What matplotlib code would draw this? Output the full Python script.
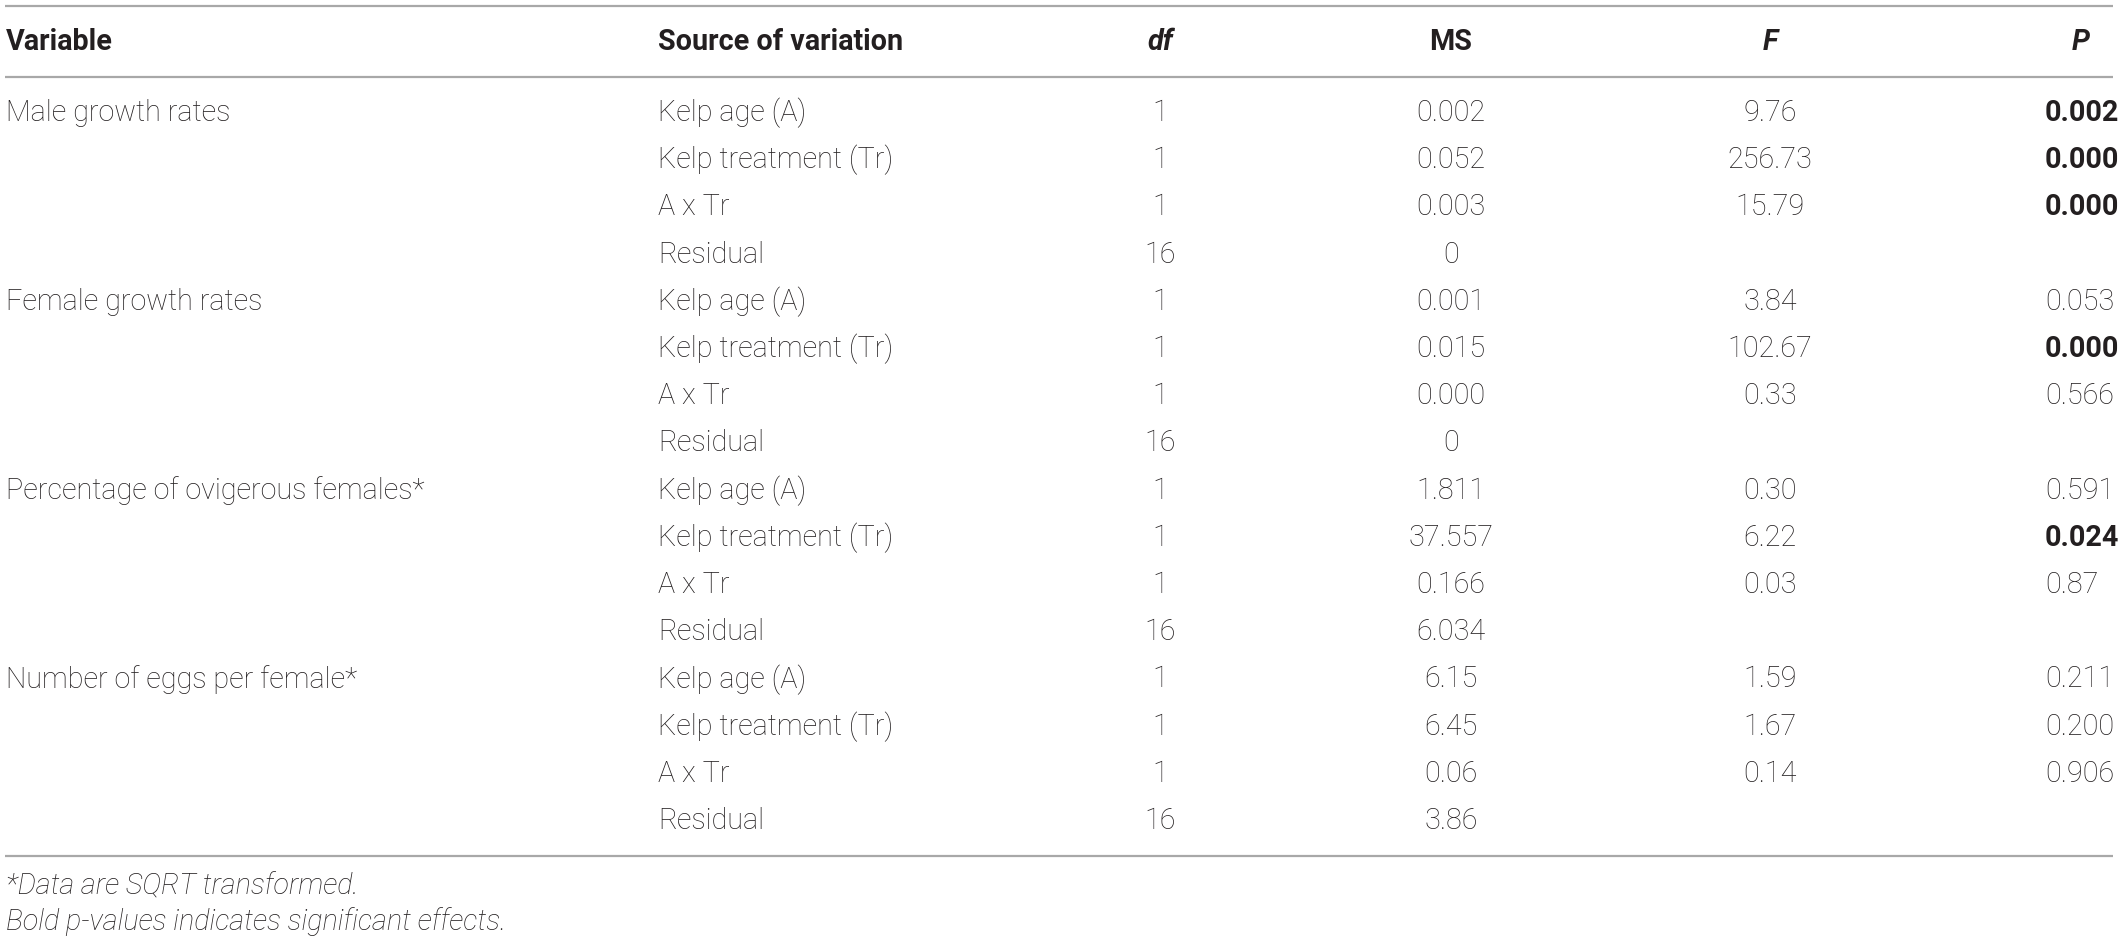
import matplotlib.pyplot as plt

variables = ["Male growth rates", "Female growth rates",
             "Percentage of ovigerous females*", "Number of eggs per female*"]
sources = ["Kelp age (A)", "Kelp treatment (Tr)", "A x Tr", "Residual"]
df_vals = ["1", "1", "1", "16"] * 4
ms_vals = ["0.002", "0.052", "0.003", "0",
           "0.001", "0.015", "0.000", "0",
           "1.811", "37.557", "0.166", "6.034",
           "6.15", "6.45", "0.06", "3.86"]
f_vals = ["9.76", "256.73", "15.79", "",
          "3.84", "102.67", "0.33", "",
          "0.30", "6.22", "0.03", "",
          "1.59", "1.67", "0.14", ""]
p_vals = ["0.002", "0.000", "0.000", "",
          "0.053", "0.000", "0.566", "",
          "0.591", "0.024", "0.87", "",
          "0.211", "0.200", "0.906", ""]
p_bold = [True, True, True, False,
          False, True, False, False,
          False, True, False, False,
          False, False, False, False]
headers = ["Variable", "Source of variation", "df", "MS", "F", "P"]
footnotes = ["*Data are SQRT transformed.",
             "Bold p-values indicates significant effects."]

W, H = 2118, 944
fig = plt.figure(figsize=(W / 100, H / 100), dpi=100)
ax = fig.add_axes([0, 0, 1, 1])
ax.set_xlim(0, W)
ax.set_ylim(H, 0)
ax.axis("off")

font = "Roboto"
txt = "#231f20"
line_c = "#a8a8a8"

# size the body font so "Male growth rates" is about as wide as in the source
r = fig.canvas.get_renderer()
probe = ax.text(0, 0, variables[0], fontsize=19, family=font, fontweight="light")
w = probe.get_window_extent(renderer=r).width
probe.remove()
fs = 19 * 224 / w

x_var, x_src, x_df, x_ms, x_f, x_p, x_p_head = 6, 658, 1160, 1451, 1770, 2045, 2081
header_y = 42
row0, row_h = 113, 47.2

bottom = row0 + 15 * row_h + 35
for y in (6, 77, bottom):
    ax.plot([5, W - 5], [y, y], color=line_c, lw=1.6, solid_capstyle="butt")

hx = [x_var, x_src, x_df, x_ms, x_f, x_p_head]
ha = ["left", "left", "center", "center", "center", "center"]
hstyle = ["normal", "normal", "italic", "normal", "italic", "italic"]
for h, x, a, s in zip(headers, hx, ha, hstyle):
    ax.text(x, header_y, h, ha=a, va="center", fontsize=fs, family=font,
            fontweight="bold", style=s, color=txt)

for i in range(16):
    y = row0 + i * row_h
    if i % 4 == 0:
        ax.text(x_var, y, variables[i // 4], ha="left", va="center",
                fontsize=fs, family=font, fontweight="light", color=txt)
    ax.text(x_src, y, sources[i % 4], ha="left", va="center",
            fontsize=fs, family=font, fontweight="light", color=txt)
    ax.text(x_df, y, df_vals[i], ha="center", va="center",
            fontsize=fs, family=font, fontweight="light", color=txt)
    ax.text(x_ms, y, ms_vals[i], ha="center", va="center",
            fontsize=fs, family=font, fontweight="light", color=txt)
    ax.text(x_f, y, f_vals[i], ha="center", va="center",
            fontsize=fs, family=font, fontweight="light", color=txt)
    ax.text(x_p, y, p_vals[i], ha="left", va="center", fontsize=fs,
            family=font, fontweight="bold" if p_bold[i] else "light", color=txt)

for k, note in enumerate(footnotes):
    ax.text(x_var, bottom + 30 + k * 36, note, ha="left", va="center",
            fontsize=fs, family=font, fontweight="light", style="italic",
            color=txt)

fig.savefig("out.png", dpi=100)
